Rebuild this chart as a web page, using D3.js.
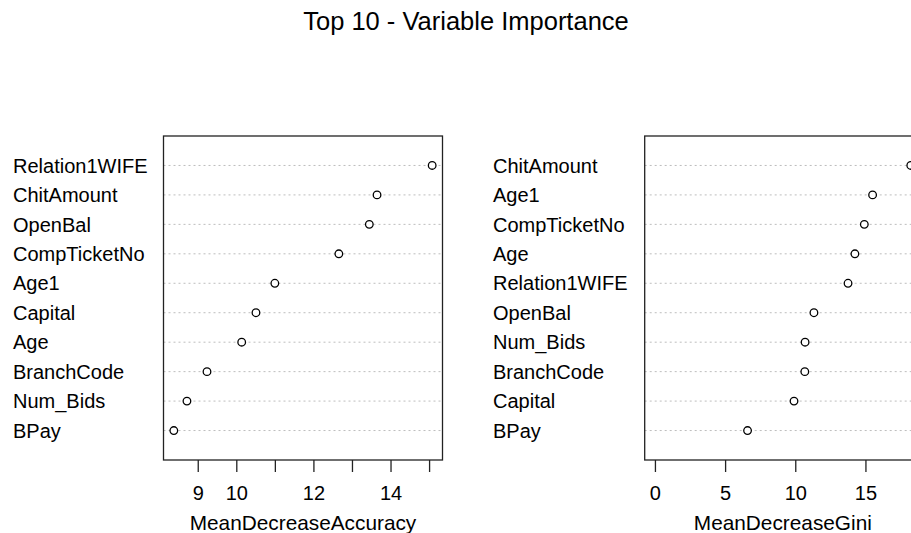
<!DOCTYPE html>
<html>
<head>
<meta charset="utf-8">
<script src="https://cdn.jsdelivr.net/npm/d3@7"></script>
<style>
  body { margin: 0; background: #fff; }
  svg { display: block; font-family: "Liberation Sans", Arial, sans-serif; }
</style>
</head>
<body>
<div id="chart"></div>
<script>
// values, top row first
var accLabels = ["Relation1WIFE", "ChitAmount", "OpenBal", "CompTicketNo", "Age1",
                 "Capital", "Age", "BranchCode", "Num_Bids", "BPay"];
var accValues = [15.08, 13.65, 13.45, 12.66, 11.0, 10.51, 10.14, 9.24, 8.72, 8.38];
var accTicks = [9, 10, 11, 12, 13, 14, 15];
var accTickLabels = [9, 10, 12, 14];

var giniLabels = ["ChitAmount", "Age1", "CompTicketNo", "Age", "Relation1WIFE",
                  "OpenBal", "Num_Bids", "BranchCode", "Capital", "BPay"];
var giniValues = [18.23, 15.51, 14.92, 14.25, 13.76, 11.33, 10.70, 10.68, 9.91, 6.60];
var giniTicks = [0, 5, 10, 15];
var giniTickLabels = [0, 5, 10, 15];

var W = 911, H = 533;
var svg = d3.select('#chart').append('svg')
    .attr('width', W).attr('height', H);

svg.append('text')
    .attr('x', 466).attr('y', 30)
    .attr('text-anchor', 'middle')
    .style('font-size', '25.5px')
    .text('Top 10 - Variable Importance');

var boxTop = 136, boxBottom = 460;

function dotPanel(opt)
{
    var n = opt.values.length;
    // R style 4% padding of the x range
    var lo = opt.xmin, hi = d3.max(opt.values);
    var pad = (hi - lo) * 0.04;
    var x = d3.scaleLinear().domain([lo - pad, hi + pad]).range([opt.left, opt.right]);
    var y = d3.scaleLinear().domain([0, n + 1]).range([boxBottom, boxTop]);

    var g = svg.append('g');

    var rows = opt.values.map(function(v, i) {
        return {label: opt.labels[i], value: v, pos: n - i};
    });

    g.selectAll('line.guide').data(rows).enter()
        .append('line')
            .attr('class', 'guide')
            .attr('x1', opt.left).attr('x2', opt.right)
            .attr('y1', function(d) { return y(d.pos); })
            .attr('y2', function(d) { return y(d.pos); })
            .attr('stroke', '#bdbdbd')
            .attr('stroke-width', 1)
            .attr('stroke-dasharray', '2,3');

    g.selectAll('text.lab').data(rows).enter()
        .append('text')
            .attr('class', 'lab')
            .attr('x', opt.labelX)
            .attr('y', function(d) { return y(d.pos); })
            .attr('dy', '0.36em')
            .style('font-size', '20px')
            .text(function(d) { return d.label; });

    g.selectAll('circle').data(rows).enter()
        .append('circle')
            .attr('cx', function(d) { return x(d.value); })
            .attr('cy', function(d) { return y(d.pos); })
            .attr('r', 3.8)
            .attr('fill', '#fff')
            .attr('stroke', '#000')
            .attr('stroke-width', 1.3);

    g.append('rect')
        .attr('x', opt.left).attr('y', boxTop)
        .attr('width', opt.right - opt.left).attr('height', boxBottom - boxTop)
        .attr('fill', 'none')
        .attr('stroke', '#222')
        .attr('stroke-width', 1.3);

    var axis = d3.axisBottom(x)
        .tickValues(opt.ticks)
        .tickSize(12)
        .tickPadding(14)
        .tickFormat(function(d) { return opt.tickLabels.indexOf(d) >= 0 ? d : ''; });

    var $ax = g.append('g')
        .attr('transform', 'translate(0,' + boxBottom + ')')
        .call(axis);
    $ax.select('.domain').remove();
    $ax.selectAll('line').attr('stroke', '#222').attr('stroke-width', 1.3);
    $ax.selectAll('text')
        .style('font-size', '20px')
        .style('font-family', '"Liberation Sans", Arial, sans-serif')
        .attr('fill', '#000');

    g.append('text')
        .attr('x', (opt.left + opt.right) / 2)
        .attr('y', 530)
        .attr('text-anchor', 'middle')
        .style('font-size', '20.8px')
        .text(opt.title);
}

dotPanel({labels: accLabels, values: accValues, xmin: d3.min(accValues),
          ticks: accTicks, tickLabels: accTickLabels,
          left: 163.5, right: 442.5, labelX: 13, title: 'MeanDecreaseAccuracy'});

dotPanel({labels: giniLabels, values: giniValues, xmin: 0,
          ticks: giniTicks, tickLabels: giniTickLabels,
          left: 644.7, right: 921, labelX: 493, title: 'MeanDecreaseGini'});
</script>
</body>
</html>
